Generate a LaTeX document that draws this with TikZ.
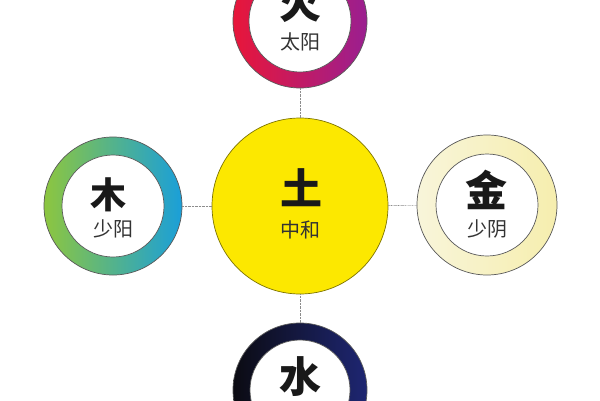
\documentclass[tikz,border=0pt]{standalone}
\usepackage{fontspec}
\newfontfamily\cjk{Noto Sans CJK SC}
\definecolor{fireL}{HTML}{E8163A}
\definecolor{fireR}{HTML}{9A1F90}
\definecolor{woodL}{HTML}{8DC63F}
\definecolor{woodR}{HTML}{1A9FD9}
\definecolor{metalL}{HTML}{F8F5DA}
\definecolor{metalR}{HTML}{F6EEAE}
\definecolor{waterL}{HTML}{0B0B12}
\definecolor{waterR}{HTML}{1E2672}
\definecolor{earthY}{HTML}{FCE800}
\begin{document}
\begin{tikzpicture}[x=1pt,y=-1pt,
  ring/.style={circle,inner sep=0pt,outer sep=0pt,draw=black!65,line width=0.7pt},
  hole/.style={circle,inner sep=0pt,outer sep=0pt,minimum size=102pt,fill=white,draw=black!65,line width=0.7pt},
  big/.style={font=\cjk\bfseries\fontsize{42}{42}\selectfont,text=black!90,inner sep=0pt},
  small/.style={font=\cjk\fontsize{20}{20}\selectfont,text=black!80,inner sep=0pt},
  link/.style={draw=black!45,line width=0.6pt,dash pattern=on 0.7pt off 0.7pt}]
\useasboundingbox (0,0) rectangle (600,400);
\fill[white] (0,0) rectangle (600,400);
% earth
\node[circle,inner sep=0pt,outer sep=0pt,minimum size=176pt,fill=earthY,draw=black!50!earthY,line width=0.7pt] (earth) at (300,206) {};
% fire
\node[ring,minimum size=134pt,left color=fireL,right color=fireR] (fire) at (300,21) {};
\node[hole] (fireh) at (300,21) {};
% wood
\node[ring,minimum size=138pt,left color=woodL,right color=woodR] (wood) at (113,206) {};
\node[hole] (woodh) at (113,206) {};
% metal
\node[ring,minimum size=140pt,left color=metalL,right color=metalR] (metal) at (487,205) {};
\node[hole] (metalh) at (487,205) {};
% water
\node[ring,minimum size=134pt,left color=waterL,right color=waterR] (water) at (300,390) {};
\node[hole,minimum size=100pt] (waterh) at (300,390) {};
% connectors
\draw[link] (fire) -- (earth);
\draw[link] (water) -- (earth);
\draw[link] (wood) -- (earth);
\draw[link] (metal) -- (earth);
% texts
\node[big] (tu) at (301,188) {土};
\node[small] (zhonghe) at (300,230) {中和};
\node[big] (huo) at (300,3) {火};
\node[small] (taiyang) at (300,42) {太阳};
\node[big,font=\cjk\bfseries\fontsize{36}{36}\selectfont] (mu) at (108,195) {木};
\node[small] (shaoyang) at (113,229) {少阳};
\node[big] (jin) at (486,190) {金};
\node[small] (shaoyin) at (487,229) {少阴};
\node[big] (shui) at (300,377) {水};
\end{tikzpicture}
\end{document}
